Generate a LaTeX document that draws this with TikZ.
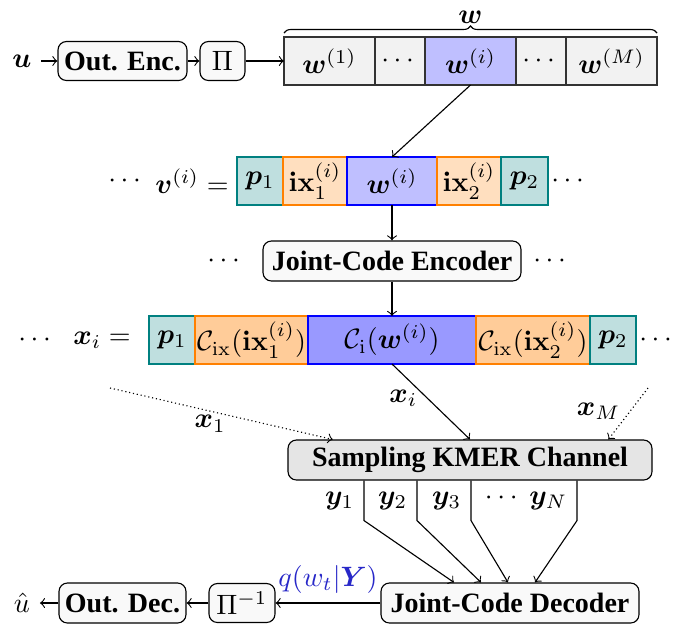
\documentclass[tikz,border=0pt]{standalone}
\usepackage{amsmath,amssymb,bm}
\usepackage[no-math]{fontspec}
\setmainfont{Liberation Serif}
\usetikzlibrary{calc,positioning,decorations.pathreplacing}
\definecolor{qblue}{RGB}{40,40,200}
\newcommand{\pxu}{0.357pt}

\begin{document}
\begin{tikzpicture}[x=\pxu,y=-\pxu,>=to,
  blk/.style={draw,rounded corners=3pt,fill=gray!5,inner sep=2pt,
    minimum height=39*\pxu,font=\bfseries},
  cell/.style={draw,outer sep=0pt,inner sep=0pt,minimum height=48*\pxu,
    minimum width=#1*\pxu},
  gcell/.style={cell=#1,fill=gray!10,draw=black!80},
  pcell/.style={cell=#1,fill=teal!25,draw=teal},
  icell/.style={cell=#1,fill=orange!25,draw=orange},
  wcell/.style={cell=#1,fill=blue!25,draw=blue}]
\useasboundingbox (0,0) rectangle (694,625);

% outer encoder and interleaver
\node (u) at (22,61) {$\bm{u}$};
\node[blk,minimum width=129*\pxu] (oenc) at (122.5,61) {Out. Enc.};
\node[blk,minimum width=45*\pxu,font=\normalsize] (pi) at (222.5,61) {$\Pi$};
\draw[->] (u) -- (oenc);
\draw[->] (oenc) -- (pi);

% the M blocks
\node[gcell=91] (w1) at (329.5,61) {$\bm{w}^{(1)}$};
\node[gcell=50,right=0pt of w1] (wd1) {$\cdots$};
\node[gcell=91,fill=blue!25,right=0pt of wd1] (wi) {$\bm{w}^{(i)}$};
\node[gcell=50,right=0pt of wi] (wd2) {$\cdots$};
\node[gcell=91,right=0pt of wd2] (wM) {$\bm{w}^{(M)}$};
\draw[->] (pi) -- (w1);
\draw[decorate,decoration={brace,amplitude=2.5pt}]
  (w1.north west) ++(0,-4) coordinate (bl) -- (wM.north east |- bl)
  node[midway,above=0pt] (wlab) {$\bm{w}$};

% block i with index and primers
\node[pcell=46] (vp1) at (260,181) {$\bm{p}_1$};
\node[icell=64,right=0pt of vp1] (vix1) {$\mathbf{ix}_1^{(i)}$};
\node[wcell=90,right=0pt of vix1] (vw) {$\bm{w}^{(i)}$};
\node[icell=64,right=0pt of vw] (vix2) {$\mathbf{ix}_2^{(i)}$};
\node[pcell=47,right=0pt of vix2] (vp2) {$\bm{p}_2$};
\node (vl) at (127,181) {$\cdots$};
\node (veq) at (192,181) {$\bm{v}^{(i)}=$};
\node (vr) at (570,181) {$\cdots$};
\draw[->] (wi.south) -- (vw.north);

% joint code encoder
\node[blk,minimum width=258*\pxu,minimum height=40*\pxu] (enc) at (392,261) {Joint-Code Encoder};
\node (encl) at (226,261) {$\cdots$};
\node (encr) at (552,261) {$\cdots$};
\draw[->] (vw.south) -- (enc.north);

% encoded strand
\node[pcell=46] (xp1) at (172,340) {$\bm{p}_1$};
\node[icell=113,fill=orange!40,right=0pt of xp1] (xix1) {$\mathcal{C}_{\mathrm{ix}}(\mathbf{ix}_1^{(i)})$};
\node[wcell=168,fill=blue!40,right=0pt of xix1] (xw) {$\mathcal{C}_{\mathrm{i}}(\bm{w}^{(i)})$};
\node[icell=114,fill=orange!40,right=0pt of xw] (xix2) {$\mathcal{C}_{\mathrm{ix}}(\mathbf{ix}_2^{(i)})$};
\node[pcell=46,right=0pt of xix2] (xp2) {$\bm{p}_2$};
\node (xl) at (37,340) {$\cdots$};
\node (xeq) at (102,340) {$\bm{x}_i=$};
\node (xr) at (658,340) {$\cdots$};
\draw[->] (enc.south) -- (xw.north);

% channel
\node[blk,fill=gray!20,minimum width=364*\pxu,minimum height=40*\pxu] (samp) at (470,460) {Sampling KMER Channel};
\coordinate (x1s) at (110,388);
\coordinate (xMs) at (648,388);
\draw[->] (xw.south) -- node[left=0pt,pos=0.45] {$\bm{x}_i$} (samp.north);
\draw[->,densely dotted] (x1s) -- node[below=-2pt,pos=0.45] {$\bm{x}_1$}
  ($(samp.north west)!0.124!(samp.north east)$);
\draw[->,densely dotted] (xMs) -- node[left=0pt,pos=0.45] {$\bm{x}_M$}
  ($(samp.north west)!0.879!(samp.north east)$);

% decoders
\node[blk,minimum width=258*\pxu,minimum height=40*\pxu] (dec) at (510,603) {Joint-Code Decoder};
\node[blk,minimum width=66*\pxu,font=\normalsize] (pinv) at (242,603) {$\Pi^{-1}$};
\node[blk,minimum width=127*\pxu,minimum height=40*\pxu] (odec) at (122.5,603) {Out. Dec.};
\node (uhat) at (22,603) {$\hat{u}$};
\foreach \a/\b/\l in {-106/-56/{$\bm{y}_1$},-53/-29/{$\bm{y}_2$},1/-2/{$\bm{y}_3$},107/25/{$\cdots\ \bm{y}_N$}}
  \draw[->] ($(samp.south)+(\a,0)$) -- node[left] {\l} ++(0,40) -- ($(dec.north)+(\b,0)$);
\draw[->] (dec.west) -- node[above,text=qblue] {$q(w_t|\bm{Y})$} (pinv.east);
\draw[->] (pinv) -- (odec);
\draw[->] (odec) -- (uhat);
\end{tikzpicture}
\end{document}
